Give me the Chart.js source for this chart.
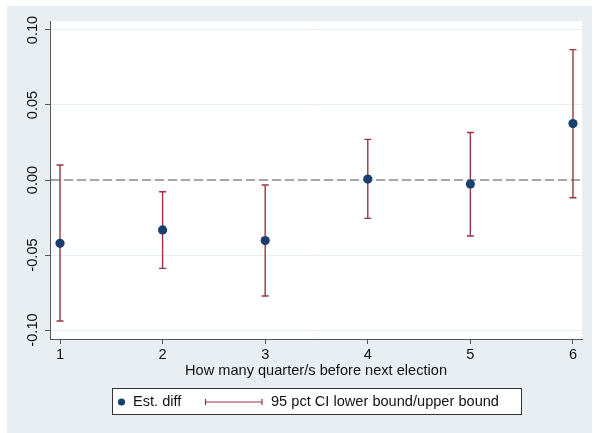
<!DOCTYPE html>
<html><head><meta charset="utf-8">
<script src="https://cdn.jsdelivr.net/npm/chart.js@4/dist/chart.umd.min.js"></script>
<style>html,body{margin:0;padding:0;background:#fff}canvas{display:block}</style>
</head><body>
<canvas id="c" width="593" height="433"></canvas>
<script>
const quarters = [1, 2, 3, 4, 5, 6];
const estDiff = [-0.0422, -0.0333, -0.0404, 0.0006, -0.0027, 0.0376];
const ciLower = [-0.0940, -0.0589, -0.0773, -0.0256, -0.0373, -0.0118];
const ciUpper = [0.0100, -0.0078, -0.0033, 0.0271, 0.0317, 0.0869];
const yTicks = [-0.10, -0.05, 0, 0.05, 0.10];
const yTickLabels = ['-0.10', '-0.05', '0.00', '0.05', '0.10'];
const xTicks = [1, 2, 3, 4, 5, 6];
const xTitle = 'How many quarter/s before next election';
const legendLabels = ['Est. diff', '95 pct CI lower bound/upper bound'];

const FONT = '"Liberation Sans", Arial, Helvetica, sans-serif';
const FS = 14.6;
const BG = '#e8eef1';
const NAVY = '#1a3f6f';
const MAROON = '#9b3540';

const stataPlugin = {
  id: 'stata',
  beforeDraw(chart) {
    const ctx = chart.ctx, a = chart.chartArea;
    ctx.save();
    ctx.fillStyle = '#ffffff';
    ctx.fillRect(0, 0, chart.width, chart.height);
    ctx.fillStyle = BG;
    ctx.fillRect(7, 6, 585, 427);
    ctx.fillStyle = '#ffffff';
    ctx.fillRect(a.left, a.top, a.right - a.left, a.bottom - a.top);
    ctx.restore();
  },
  beforeDatasetsDraw(chart) {
    const ctx = chart.ctx, a = chart.chartArea;
    const xs = chart.scales.x, ys = chart.scales.y;
    ctx.save();
    const y0 = ys.getPixelForValue(0);
    ctx.strokeStyle = '#8c8c8c';
    ctx.lineWidth = 1.6;
    ctx.setLineDash([9, 4]);
    ctx.beginPath();
    ctx.moveTo(a.left + 1, y0);
    ctx.lineTo(a.right, y0);
    ctx.stroke();
    ctx.setLineDash([]);
    ctx.strokeStyle = MAROON;
    ctx.lineWidth = 1.4;
    quarters.forEach((q, i) => {
      const x = xs.getPixelForValue(q);
      const yl = ys.getPixelForValue(ciLower[i]);
      const yu = ys.getPixelForValue(ciUpper[i]);
      ctx.beginPath();
      ctx.moveTo(x, yl); ctx.lineTo(x, yu);
      ctx.moveTo(x - 3.5, yl); ctx.lineTo(x + 3.5, yl);
      ctx.moveTo(x - 3.5, yu); ctx.lineTo(x + 3.5, yu);
      ctx.stroke();
    });
    ctx.restore();
  },
  afterDraw(chart) {
    const ctx = chart.ctx, a = chart.chartArea;
    const ys = chart.scales.y;
    ctx.save();
    ctx.fillStyle = '#111';
    ctx.font = FS + 'px ' + FONT;
    ctx.textAlign = 'center';
    ctx.textBaseline = 'middle';
    yTicks.forEach((v, i) => {
      const y = ys.getPixelForValue(v);
      ctx.save();
      ctx.translate(33, y);
      ctx.rotate(-Math.PI / 2);
      ctx.fillText(yTickLabels[i], 0, 0);
      ctx.restore();
    });
    ctx.fillText(xTitle, (a.left + a.right) / 2, 371);
    ctx.fillStyle = '#ffffff';
    ctx.fillRect(112, 388, 410, 27);
    ctx.strokeStyle = '#333';
    ctx.lineWidth = 1;
    ctx.strokeRect(112.5, 388.5, 409, 26);
    const ly = 402;
    ctx.fillStyle = NAVY;
    ctx.beginPath();
    ctx.arc(121.5, ly, 3.6, 0, Math.PI * 2);
    ctx.fill();
    ctx.fillStyle = '#111';
    ctx.textAlign = 'left';
    ctx.fillText(legendLabels[0], 133, ly);
    ctx.strokeStyle = MAROON;
    ctx.lineWidth = 1.2;
    ctx.beginPath();
    ctx.moveTo(205.5, ly); ctx.lineTo(262, ly);
    ctx.moveTo(205.5, ly - 3); ctx.lineTo(205.5, ly + 3);
    ctx.moveTo(262, ly - 3); ctx.lineTo(262, ly + 3);
    ctx.stroke();
    ctx.fillStyle = '#111';
    ctx.fillText(legendLabels[1], 271, ly);
    ctx.restore();
  }
};

new Chart(document.getElementById('c'), {
  type: 'scatter',
  data: {
    datasets: [{
      label: legendLabels[0],
      data: quarters.map((q, i) => ({ x: q, y: estDiff[i] })),
      backgroundColor: NAVY,
      borderColor: NAVY,
      pointRadius: 4.6,
      pointHoverRadius: 4.6,
      borderWidth: 0
    }]
  },
  options: {
    responsive: false,
    animation: false,
    devicePixelRatio: 1,
    layout: { padding: { left: 0, top: 21, right: 11, bottom: 0 } },
    plugins: { legend: { display: false }, tooltip: { enabled: false } },
    scales: {
      x: {
        type: 'linear',
        min: 0.9025,
        max: 6.088,
        afterBuildTicks: s => { s.ticks = xTicks.map(v => ({ value: v })); },
        afterFit: s => { s.height = 94; },
        ticks: {
          color: '#111',
          font: { family: FONT, size: FS },
          padding: 2,
          callback: v => String(v),
          maxRotation: 0,
          autoSkip: false
        },
        grid: { drawOnChartArea: false, drawTicks: true, tickLength: 5, tickColor: '#555', lineWidth: 1 },
        border: { display: true, color: '#555', width: 1 }
      },
      y: {
        min: -0.106,
        max: 0.106,
        afterBuildTicks: s => { s.ticks = yTicks.map(v => ({ value: v })); },
        afterFit: s => { s.width = 50; },
        ticks: { display: false },
        grid: { drawOnChartArea: true, color: '#e6eef0', lineWidth: 1, drawTicks: true, tickLength: 5, tickColor: '#555' },
        border: { display: true, color: '#555', width: 1 }
      }
    }
  },
  plugins: [stataPlugin]
});
</script>
</body></html>
